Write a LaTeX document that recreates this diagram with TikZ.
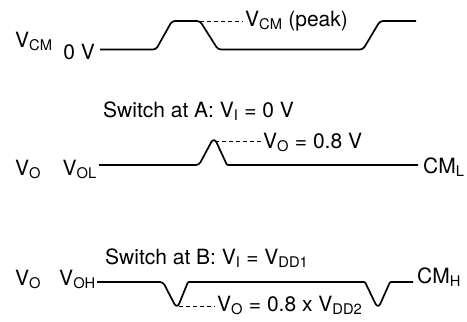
\documentclass[tikz,border=0pt]{standalone}
\usepackage{fontspec}
\setmainfont{TeX Gyre Heros}
\begin{document}
\begin{tikzpicture}[x=1pt,y=-1pt,
  trace/.style={line width=1.7pt, line join=round, rounded corners=3pt},
  lead/.style={line width=0.7pt, dash pattern=on 4pt off 3pt},
  lbl/.style={font=\fontsize{21}{25}\selectfont, inner sep=0pt, anchor=base west},
  lble/.style={lbl, anchor=base east}]
\useasboundingbox (0,0) rectangle (467,322);
% row 1
\node[lbl] (vcm) at (15,47) {V\textsubscript{CM}};
\node[lble] (zero) at (95,59) {0 V};
\node[lbl] (peak) at (245,26) {V\textsubscript{CM} (peak)};
\coordinate (a0) at (100,49.5);
\coordinate (a1) at (156,49.5);
\coordinate (a2) at (172,21);
\coordinate (a3) at (200,21);
\coordinate (a4) at (218,49.5);
\coordinate (a5) at (363,49.5);
\coordinate (a6) at (380,21);
\coordinate (a7) at (416,21);
\coordinate (pk) at (243,21);
\draw[trace] (a0) -- (a1) -- (a2) -- (a3) -- (a4) -- (a5) -- (a6) -- (a7);
\draw[lead] (a3) -- (pk);
% row 2
\node[lbl] (swa) at (103,117) {Switch at A: V\textsubscript{I} = 0 V};
\node[lbl] (vo2) at (15,175) {V\textsubscript{O}};
\node[lble] (vol) at (97,175) {V\textsubscript{OL}};
\node[lbl] (cml) at (423,173) {CM\textsubscript{L}};
\node[lbl] (vo08) at (263,148) {V\textsubscript{O} = 0.8 V};
\coordinate (b0) at (99,165);
\coordinate (b1) at (199,165);
\coordinate (b2) at (214,137);
\coordinate (b3) at (227,165);
\coordinate (b4) at (418,165);
\coordinate (bt) at (215,141);
\coordinate (bl) at (261,141);
\draw[trace] (b0) -- (b1) [rounded corners=6pt] -- (b2) [rounded corners=1pt] -- (b3) -- (b4);
\draw[lead] (bt) -- (bl);
% row 3
\node[lbl] (swb) at (105,264) {Switch at B: V\textsubscript{I} = V\textsubscript{DD1}};
\node[lbl] (vo3) at (15,285) {V\textsubscript{O}};
\node[lble] (voh) at (96,285) {V\textsubscript{OH}};
\node[lbl] (cmh) at (417,283) {CM\textsubscript{H}};
\node[lbl] (vodd) at (217,311) {V\textsubscript{O} = 0.8 x V\textsubscript{DD2}};
\coordinate (c0) at (97,282);
\coordinate (c1) at (163,282);
\coordinate (c2) at (177,309);
\coordinate (c3) at (188,282);
\coordinate (c4) at (365,282);
\coordinate (c5) at (378,309);
\coordinate (c6) at (390,282);
\coordinate (c7) at (413,282);
\coordinate (cb) at (179,306);
\coordinate (cl) at (215,306);
\draw[trace] (c0) -- (c1) [rounded corners=6pt] -- (c2) [rounded corners=1pt] -- (c3) -- (c4) [rounded corners=6pt] -- (c5) [rounded corners=1pt] -- (c6) -- (c7);
\draw[lead] (cb) -- (cl);
\end{tikzpicture}
\end{document}
